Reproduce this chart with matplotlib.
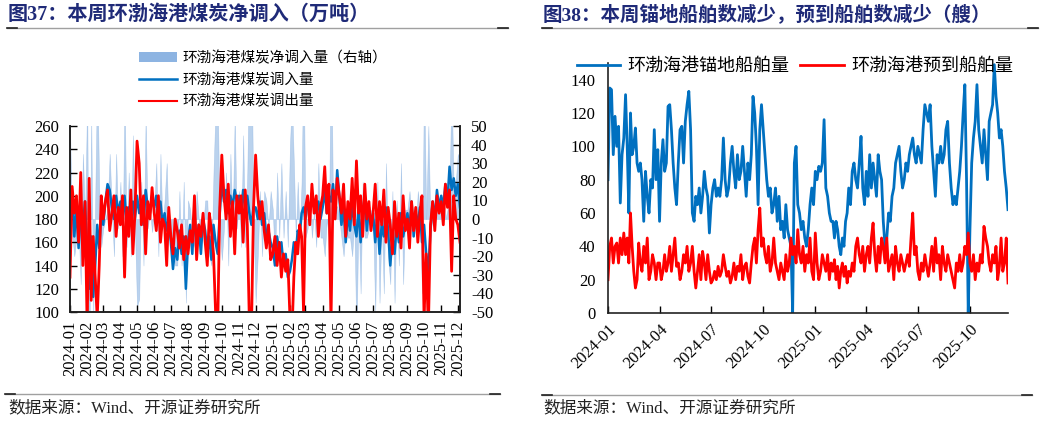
import numpy as np
import pandas as pd
import matplotlib
matplotlib.use('Agg')
import matplotlib.pyplot as plt
from matplotlib.patches import Patch
from matplotlib.lines import Line2D

plt.rcParams['font.family'] = ['Liberation Serif', 'Noto Sans CJK SC']
plt.rcParams['axes.unicode_minus'] = False

# ---------------- data: left chart (8 readings per month) ----------------
inflow = [
    180, 200, 165, 190, 155, 185, 175, 195,   # 2024-01
    150, 120, 165, 113, 140, 175, 155, 185,   # 2024-02
    175, 195, 210, 205, 190, 180, 200, 185,   # 2024-03
    195, 180, 200, 175, 190, 185, 195, 180,   # 2024-04
    200, 185, 195, 175, 205, 190, 185, 200,   # 2024-05
    190, 200, 180, 195, 175, 185, 170, 180,   # 2024-06
    160, 137, 155, 145, 170, 150, 165, 120,   # 2024-07
    160, 175, 150, 185, 160, 175, 150, 180,   # 2024-08
    170, 150, 165, 145, 175, 160, 150, 185,   # 2024-09
    213, 195, 205, 185, 200, 190, 205, 195,   # 2024-10
    200, 185, 205, 190, 200, 185, 175, 190,   # 2024-11
    190, 180, 195, 175, 185, 165, 170, 160,   # 2024-12
    155, 140, 165, 150, 160, 140, 150, 130,   # 2025-01
    135, 145, 160, 150, 170, 165, 185, 190,   # 2025-02
    180, 195, 185, 200, 190, 185, 195, 180,   # 2025-03
    190, 205, 185, 200, 195, 210, 185, 222,   # 2025-04
    200, 175, 190, 160, 185, 170, 195, 175,   # 2025-05
    165, 190, 160, 185, 200, 170, 190, 175,   # 2025-06
    185, 160, 185, 150, 175, 165, 190, 170,   # 2025-07
    140, 165, 150, 175, 160, 185, 165, 175,   # 2025-08
    185, 170, 195, 165, 185, 175, 190, 160,   # 2025-09
    175, 150, 135, 170, 195, 180, 205, 190,   # 2025-10
    200, 190, 210, 195, 225, 205, 215, 200,   # 2025-11
    210, 190,                                 # 2025-12
]
outflow = [
    130, 208, 185, 200, 160, 220, 140, 195,   # 2024-01
    85, 215, 110, 165, 130, 95, 140, 200,     # 2024-02
    180, 195, 205, 170, 185, 200, 165, 190,   # 2024-03
    175, 200, 130, 190, 165, 205, 150, 185,   # 2024-04
    247, 228, 175, 200, 150, 195, 180, 207,   # 2024-05
    185, 170, 200, 160, 180, 175, 140, 190,   # 2024-06
    165, 150, 180, 170, 155, 175, 145, 165,   # 2024-07
    150, 170, 160, 200, 145, 175, 165, 185,   # 2024-08
    160, 140, 185, 170, 150, 100, 85, 190,    # 2024-09
    235, 200, 180, 210, 165, 195, 150, 200,   # 2024-10
    185, 200, 160, 205, 175, 90, 85, 190,     # 2024-11
    235, 200, 180, 195, 170, 155, 175, 145,   # 2024-12
    150, 165, 140, 160, 130, 150, 135, 145,   # 2025-01
    95, 80, 130, 160, 150, 175, 165, 100,     # 2025-02
    190, 200, 175, 210, 185, 200, 165, 190,   # 2025-03
    200, 225, 185, 210, 90, 205, 180, 215,    # 2025-04
    200, 185, 210, 165, 195, 180, 215, 175,   # 2025-05
    230, 185, 200, 165, 210, 180, 195, 170,   # 2025-06
    185, 210, 165, 195, 175, 205, 160, 190,   # 2025-07
    175, 150, 195, 165, 185, 155, 200, 170,   # 2025-08
    180, 155, 195, 170, 190, 160, 185, 200,   # 2025-09
    95, 150, 85, 175, 195, 170, 200, 185,     # 2025-10
    195, 175, 210, 190, 205, 135, 200, 180,   # 2025-11
    175, 160,                                 # 2025-12
]

# ---------------- data: right chart (10 readings per month) ----------------
anchored = [
    80, 135, 134, 95, 118, 100, 112, 66, 95, 105,     # 2024-01
    131, 100, 60, 120, 95, 100, 111, 90, 85, 90,      # 2024-02
    80, 55, 85, 70, 60, 80, 75, 110, 80, 98,          # 2024-03
    55, 90, 104, 85, 90, 124, 125, 110, 90, 75,       # 2024-04
    65, 90, 110, 112, 90, 115, 125, 133, 110, 60,     # 2024-05
    55, 70, 65, 75, 60, 70, 85, 75, 70, 48,           # 2024-06
    65, 75, 80, 70, 75, 70, 80, 105, 80, 70,          # 2024-07
    75, 90, 100, 85, 75, 95, 80, 85, 100, 85,         # 2024-08
    70, 90, 80, 95, 130, 120, 100, 65, 110, 125,      # 2024-09
    110, 95, 80, 70, 75, 60, 65, 75, 55, 70,          # 2024-10
    50, 55, 45, 65, 50, 45, 40, 0, 90, 100,           # 2024-11
    65, 60, 50, 55, 45, 40, 50, 65, 75, 65,           # 2024-12
    85, 80, 88, 85, 90, 116, 75, 70, 60, 55,          # 2025-01
    55, 45, 55, 50, 40, 35, 45, 40, 55, 60,           # 2025-02
    75, 65, 85, 90, 80, 75, 90, 106, 75, 65,          # 2025-03
    85, 70, 95, 75, 90, 80, 70, 95, 85, 80,           # 2025-04
    55, 40, 45, 60, 55, 70, 75, 90, 95, 100,          # 2025-05
    85, 75, 80, 90, 85, 95, 100, 105, 95, 90,         # 2025-06
    100, 95, 90, 110, 125, 120, 115, 125, 100, 85,    # 2025-07
    70, 95, 90, 100, 90, 95, 110, 115, 90, 75,        # 2025-08
    65, 70, 65, 75, 85, 100, 120, 137, 80, 0,         # 2025-09
    50, 90, 105, 115, 137, 110, 100, 90, 110, 95,     # 2025-10
    80, 115, 120, 125, 149, 130, 120, 105, 110, 100,  # 2025-11
    85, 75, 62,                                       # 2025-12
]
expected = [
    20, 40, 45, 30, 40, 42, 30, 45, 35, 48,   # 2024-01
    35, 45, 30, 60, 40, 25, 15, 20, 42, 30,   # 2024-02
    25, 40, 30, 45, 20, 25, 35, 30, 20, 30,   # 2024-03
    30, 20, 25, 35, 25, 30, 40, 25, 35, 45,   # 2024-04
    28, 30, 20, 25, 35, 30, 40, 25, 30, 40,   # 2024-05
    25, 15, 25, 35, 20, 37, 30, 20, 35, 25,   # 2024-06
    18, 20, 25, 20, 28, 22, 25, 35, 28, 22,   # 2024-07
    25, 18, 22, 30, 20, 28, 25, 35, 20, 28,   # 2024-08
    30, 22, 18, 30, 40, 45, 30, 50, 63, 40,   # 2024-09
    45, 35, 30, 40, 25, 30, 45, 30, 25, 20,   # 2024-10
    30, 25, 20, 35, 25, 30, 45, 35, 40, 30,   # 2024-11
    50, 35, 30, 40, 25, 35, 30, 45, 25, 20,   # 2024-12
    48, 30, 20, 25, 35, 30, 25, 35, 20, 30,   # 2025-01
    25, 32, 20, 28, 15, 25, 30, 22, 28, 18,   # 2025-02
    25, 22, 30, 25, 40, 45, 35, 30, 40, 25,   # 2025-03
    35, 40, 30, 45, 54, 35, 25, 40, 30, 45,   # 2025-04
    40, 30, 45, 25, 30, 35, 20, 40, 30, 25,   # 2025-05
    35, 30, 25, 30, 35, 28, 45, 60, 35, 40,   # 2025-06
    25, 20, 30, 25, 35, 28, 22, 30, 40, 25,   # 2025-07
    45, 30, 35, 20, 40, 30, 25, 35, 30, 25,   # 2025-08
    20, 15, 30, 25, 35, 25, 30, 40, 35, 48,   # 2025-09
    30, 25, 35, 20, 30, 25, 35, 30, 52, 45,   # 2025-10
    40, 30, 25, 35, 30, 40, 20, 28, 45, 25,   # 2025-11
    30, 45, 18,                               # 2025-12
]

left_ticks = pd.date_range('2024-01-01', '2025-12-01', freq='MS')
right_ticks = pd.date_range('2024-01-01', '2025-10-01', freq='QS')


def month_dates(n_total, per_month):
    out = []
    s = pd.Timestamp('2024-01-01')
    while len(out) < n_total:
        step = s.days_in_month / per_month
        for k in range(per_month):
            if len(out) < n_total:
                out.append(s + pd.Timedelta(days=k * step))
        s = s + pd.offsets.MonthBegin(1)
    return pd.DatetimeIndex(out)


dl = month_dates(len(inflow), 8)
dr = month_dates(len(anchored), 10)
inflow_a = np.array(inflow, float)
outflow_a = np.array(outflow, float)
net = inflow_a - outflow_a

W, H = 1057, 421
fig = plt.figure(figsize=(W / 100, H / 100), dpi=100)
fig.patch.set_facecolor('white')


def fx(px):
    return px / W


def fy(py):
    return 1 - py / H


navy = '#1F2A78'
BLUE = '#0070C0'
RED = '#FF0000'
LIGHT = '#8DB4E2'

# titles
fig.text(fx(8), fy(15), '图37：本周环渤海港煤炭净调入（万吨）', fontsize=14.5,
         fontweight='bold', color=navy, va='center', ha='left')
fig.text(fx(543), fy(15), '图38：本周锚地船舶数减少，预到船舶数减少（艘）', fontsize=14,
         fontweight='bold', color=navy, va='center', ha='left')

# separator lines


def sep(x0, x1, y):
    fig.add_artist(Line2D([fx(x0), fx(x1)], [fy(y), fy(y)], color='#A0A0A0', lw=1.0))
    fig.add_artist(Line2D([fx(x0), fx(x0 + 10)], [fy(y), fy(y)], color='#202020', lw=1.2))
    fig.add_artist(Line2D([fx(x1 - 10), fx(x1)], [fy(y), fy(y)], color='#202020', lw=1.2))


sep(7, 508, 28)
sep(542, 1038, 28)
sep(5, 500, 394)
sep(542, 1032, 395)

fig.text(fx(8), fy(408), '数据来源：Wind、开源证券研究所', fontsize=12, color='#222222',
         va='center', ha='left')
fig.text(fx(543), fy(408), '数据来源：Wind、开源证券研究所', fontsize=12, color='#222222',
         va='center', ha='left')

# ---------------- left chart ----------------
ax = fig.add_axes([fx(70), fy(312), fx(390), 186 / H])
ax2 = ax.twinx()
ax2.fill_between(dl, 0, net, color=LIGHT, alpha=0.6, lw=0.4, edgecolor=LIGHT)
ax2.set_ylim(-50, 50)
ax2.set_yticks(np.arange(-50, 51, 10))
ax.plot(dl, inflow_a, color=BLUE, lw=1.8)
ax.plot(dl, outflow_a, color=RED, lw=2.0)
ax.set_zorder(ax2.get_zorder() + 1)
ax.patch.set_visible(False)
ax.set_ylim(100, 260)
ax.set_yticks(np.arange(100, 261, 20))
ax.set_xlim(dl[0], dl[-1])
ax.set_xticks(left_ticks)
ax.set_xticklabels([d.strftime('%Y-%m') for d in left_ticks], rotation=90)
for a in (ax, ax2):
    a.spines['top'].set_visible(False)
    for s in ('left', 'right', 'bottom'):
        a.spines[s].set_linewidth(1.2)
        a.spines[s].set_color('#222222')
ax.tick_params(axis='x', direction='in', length=5, width=1, pad=6, labelsize=12)
ax.tick_params(axis='y', direction='in', length=5, width=1, pad=8, labelsize=12)
ax2.tick_params(axis='y', direction='in', length=5, width=1, pad=8, labelsize=12)

handles = [Patch(facecolor=LIGHT, edgecolor='none'),
           Line2D([], [], color=BLUE, lw=1.8),
           Line2D([], [], color=RED, lw=1.5)]
labels = ['环渤海港煤炭净调入量（右轴）', '环渤海港煤炭调入量', '环渤海港煤炭调出量']
fig.legend(handles, labels, loc='upper left', bbox_to_anchor=(fx(139), fy(51)),
           frameon=False, handlelength=2.6, handletextpad=0.4,
           labelspacing=0.5, borderpad=0, borderaxespad=0,
           prop={'family': ['Noto Sans CJK SC'], 'size': 10.5})

# ---------------- right chart ----------------
bx = fig.add_axes([fx(608), fy(313), fx(400), 250 / H])
bx.plot(dr, anchored, color=BLUE, lw=2.0, label='环渤海港锚地船舶量')
bx.plot(dr, expected, color=RED, lw=2.0, label='环渤海港预到船舶量')
bx.set_ylim(0, 150)
bx.set_yticks(np.arange(0, 141, 20))
bx.set_xlim(dr[0], dr[-1])
bx.set_xticks(right_ticks)
bx.set_xticklabels([d.strftime('%Y-%m') for d in right_ticks], rotation=45,
                   ha='right', rotation_mode='anchor')
for s in ('top', 'right'):
    bx.spines[s].set_visible(False)
for s in ('left', 'bottom'):
    bx.spines[s].set_linewidth(1.2)
    bx.spines[s].set_color('#222222')
bx.tick_params(axis='x', direction='in', length=5, width=1, pad=6, labelsize=12)
bx.tick_params(axis='y', length=0, pad=9, labelsize=12)
bx.legend(loc='upper left', bbox_to_anchor=(fx(577), fy(57)),
          bbox_transform=fig.transFigure, ncol=2, frameon=False,
          handlelength=2.4, handletextpad=0.4, columnspacing=0.6, borderpad=0,
          borderaxespad=0, prop={'family': ['Noto Sans CJK SC'], 'size': 13})

fig.savefig('out.png', dpi=100, facecolor='white')
